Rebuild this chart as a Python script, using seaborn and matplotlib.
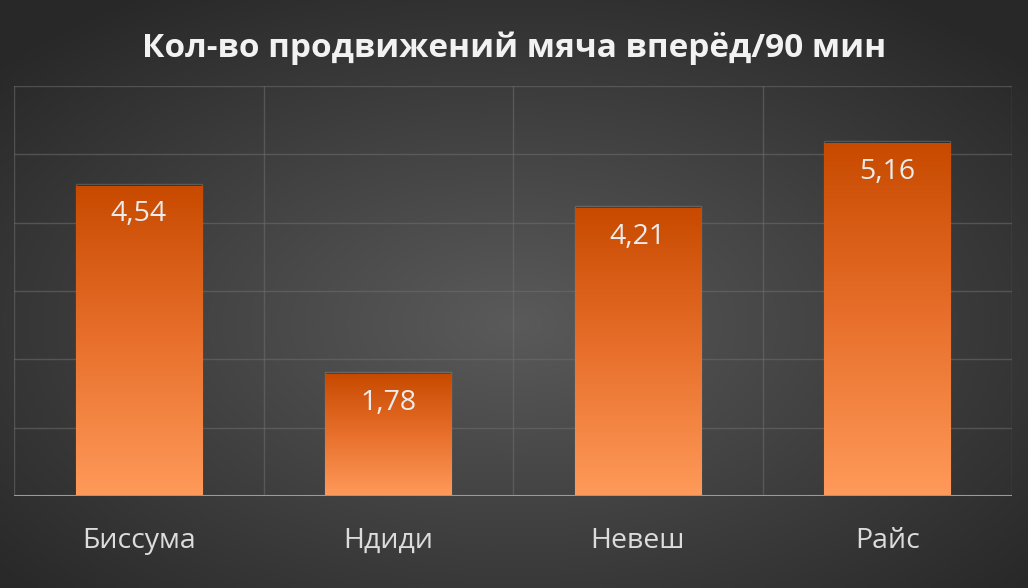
import matplotlib
matplotlib.use("Agg")
import matplotlib.pyplot as plt
import numpy as np
import pandas as pd
import seaborn as sns
from matplotlib.colors import LinearSegmentedColormap

players = ["Биссума", "Ндиди", "Невеш", "Райс"]
values = [4.54, 1.78, 4.21, 5.16]
value_labels = ["4,54", "1,78", "4,21", "5,16"]
title = "Кол-во продвижений мяча вперёд/90 мин"

df = pd.DataFrame({"player": players, "value": values})

sns.set_theme(style="dark")
plt.rcParams["font.family"] = ["Open Sans", "DejaVu Sans"]

fig = plt.figure(figsize=(10.28, 5.88), dpi=100)

# radial background
bg = fig.add_axes([0, 0, 1, 1])
yy, xx = np.mgrid[0:1:300j, 0:1:500j]
r = np.sqrt(((xx - 0.5) / 0.75) ** 2 + ((yy - 0.55) / 0.75) ** 2)
bg_cmap = LinearSegmentedColormap.from_list("bg", ["#5a5a5a", "#414141", "#282828"])
bg.imshow(r, cmap=bg_cmap, aspect="auto", extent=[0, 1, 0, 1], vmin=0, vmax=0.9)
bg.axis("off")

ax = fig.add_axes([0.0136, 0.1565, 0.971, 0.6972])
ax.patch.set_alpha(0)
sns.barplot(data=df, x="player", y="value", ax=ax, width=0.505, color="#e06020",
            edgecolor="none", zorder=3)
ax.set_ylim(0, 6)
ax.set_xlim(-0.5, 3.5)
ax.set_yticks(range(0, 7))
ax.set_yticklabels([])
ax.tick_params(axis="y", length=0)
ax.tick_params(axis="x", length=0, pad=22, labelsize=20.5, labelcolor="#dcdcdc")
for sp in ax.spines.values():
    sp.set_visible(False)
ax.grid(axis="y", color="#6e6e6e", linewidth=1, alpha=0.55, zorder=0)
for xv in [-0.5, 0.5, 1.5, 2.5, 3.5]:
    ax.axvline(xv, color="#6e6e6e", linewidth=1, alpha=0.55, zorder=0)
ax.axhline(0, color="#9a9a9a", linewidth=1.5, zorder=4)
ax.set_xlabel("")
ax.set_ylabel("")

# gradient fill for bars
bar_cmap = LinearSegmentedColormap.from_list("bar", ["#ff9a5a", "#e8702c", "#c84a00"])
grad = np.linspace(0, 1, 256).reshape(-1, 1)
for patch, lab in zip(ax.patches, value_labels):
    x0, w = patch.get_x(), patch.get_width()
    h = patch.get_height()
    # soft shadow above the bar top
    ax.bar(x0 + w / 2, h + 0.03, width=w, bottom=0, color="black", alpha=0.18,
           zorder=2, align="center")
    im = ax.imshow(grad, cmap=bar_cmap, aspect="auto", extent=[x0, x0 + w, 0, h],
                   origin="lower", zorder=3.5)
    im.set_clip_path(patch)
    ax.text(x0 + w / 2, h - 0.42, lab, ha="center", va="center", fontsize=20.5,
            color="#ececec", zorder=5)
ax.set_xlim(-0.5, 3.5)
ax.set_ylim(0, 6)

fig.text(0.5, 0.918, title, ha="center", va="center", fontsize=24,
         fontweight="bold", color="#f2f2f2")

fig.savefig("out.png", dpi=100)
